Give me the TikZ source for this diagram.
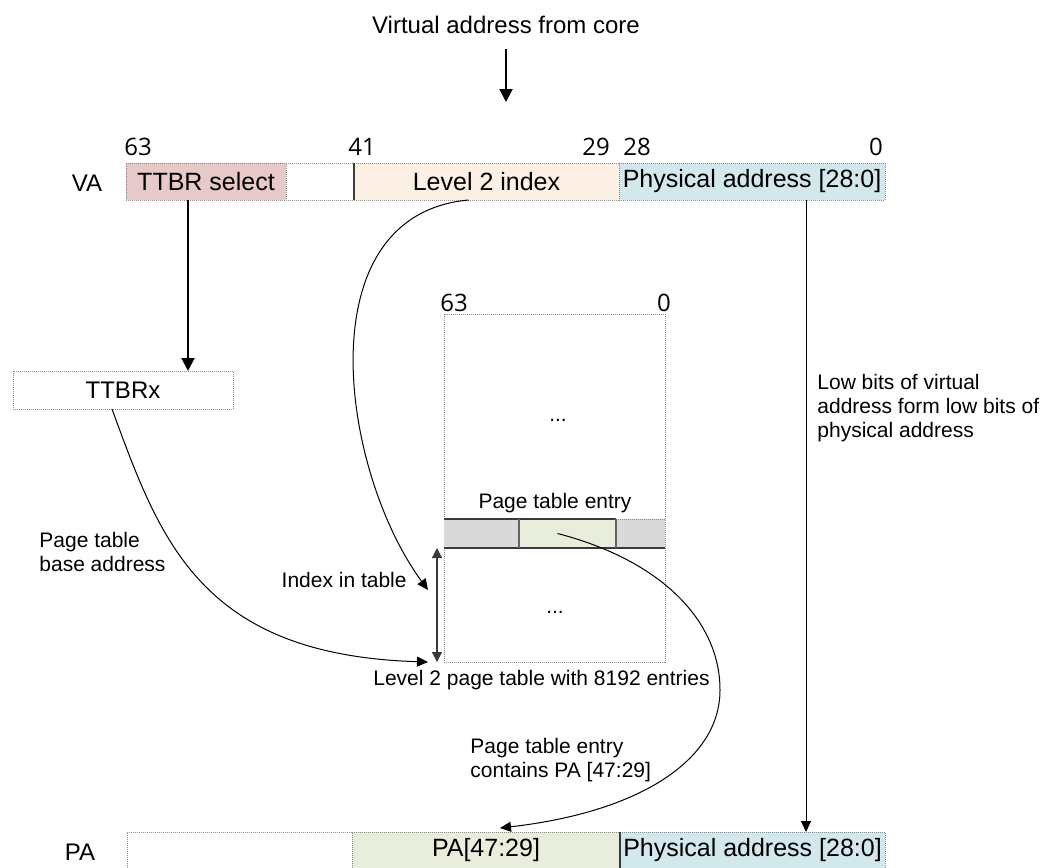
\documentclass[tikz,border=0pt]{standalone}
\usepackage{fontspec}
\setmainfont{Liberation Sans}
\newfontfamily\bitfont{Open Sans}
\usetikzlibrary{arrows.meta, positioning}
\definecolor{cgrey}{HTML}{8C8C8C}
\definecolor{cdark}{HTML}{3A3A3A}
\definecolor{cred}{HTML}{E8C9C9}
\definecolor{corange}{HTML}{FCEFE3}
\definecolor{cblue}{HTML}{D3E8ED}
\definecolor{cgreen}{HTML}{E9EEDC}
\definecolor{cfill}{HTML}{D9D9D9}
\tikzset{
  every picture/.style={x=0.5pt, y=-0.5pt, font=\fontsize{10.5}{12}\selectfont},
  seg/.style={draw=cgrey, dash pattern=on 0.5pt off 0.5pt, line width=0.5pt, fill=#1, inner sep=0pt, outer sep=0pt, minimum height=18.5pt, font=\fontsize{12.5}{14}\selectfont},
  seg/.default=white,
  big/.style={font=\fontsize{12}{14}\selectfont},
  divider/.style={draw=cdark, line width=0.6pt},
  bit/.style={font=\bitfont\fontsize{12}{14}\selectfont, inner sep=0pt},
  note/.style={align=left, inner sep=0pt},
  bigarrow/.style={-{Triangle[length=6.5pt, width=6.5pt]}, line width=1pt},
  arrow/.style={-{Triangle[length=5.5pt, width=5pt]}, line width=0.5pt},
  idxarrow/.style={{Triangle[length=5pt, width=5pt]}-{Triangle[length=5pt, width=5pt]}, draw=cdark, line width=0.6pt},
}
\begin{document}
\begin{tikzpicture}
  \useasboundingbox (0,0) rectangle (1059,867);
  % address coming from the core
  \node[big] (core) at (506,25) {Virtual address from core};
  \coordinate (coretip) at (506,102);
  \draw[bigarrow] ([yshift=-4pt]core.south) -- (coretip);

  % VA register
  \node[big] (va) at (87,183) {VA};
  \node[seg=cred, minimum width=80pt] (ttbrsel) at (206,181.5) {TTBR select};
  \node[seg, minimum width=34pt, right=0pt of ttbrsel] (vablank) {};
  \node[seg=corange, minimum width=132.5pt, right=0pt of vablank] (lvl2idx) {Level 2 index};
  \node[seg=cblue, minimum width=133pt, right=0pt of lvl2idx] (vaoff) {Physical address [28:0]};
  \draw[divider] (lvl2idx.north west) -- (lvl2idx.south west);
  \foreach \b/\x in {63/138, 41/362, 29/596, 28/637, 0/876}
    \node[bit] (va\b) at (\x,147) {\b};

  % TTBRx
  \node[seg, minimum width=110pt, minimum height=19pt, big] (ttbrx) at (123,390) {TTBRx};
  \draw[bigarrow] ([xshift=-9pt]ttbrsel.south) -- ([xshift=-9pt]ttbrsel.south |- ttbrx.north);

  % level 2 table
  \node[seg, minimum width=110.5pt, minimum height=174pt] (ptable) at (554.5,488) {};
  \node[bit] (pt63) at (454,303) {63};
  \node[bit] (pt0) at (664,303) {0};
  \node (dotsa) at (558,420) {...};
  \node (dotsb) at (555,612) {...};
  \node (ptelabel) at (555,503) {Page table entry};
  \node[seg=cfill, draw=none, minimum width=37.5pt, minimum height=14.5pt] (pteleft) at (481.5,533.5) {};
  \node[seg=cgreen, draw=none, minimum width=48.5pt, minimum height=14.5pt, right=0pt of pteleft] (ptepa) {};
  \node[seg=cfill, minimum width=24.5pt, minimum height=14.5pt, right=0pt of ptepa] (pteright) {};
  \draw[divider] (pteleft.north west) -- (pteright.north west);
  \draw[divider] (pteleft.south west) -- (pteright.south east);
  \draw[divider, draw=cgrey!70!black] (ptepa.north west) -- (ptepa.south west) (ptepa.north east) -- (ptepa.south east);
  \node (ptcaption) at (541.5,680) {Level 2 page table with 8192 entries};

  % labels
  \node[note, anchor=west] (baselabel) at (39,552) {Page table\\base address};
  \node[anchor=east, inner sep=0pt] (idxlabel) at (407,580) {Index in table};
  \node[note, anchor=west] (lowlabel) at (817,408) {Low bits of virtual\\address form low bits of\\physical address};
  \node[note, anchor=west] (pteinfo) at (470,760) {Page table entry\\contains PA [47:29]};

  % PA register
  \node[big] (pa) at (80,852) {PA};
  \node[seg, minimum width=112.5pt] (pablank) at (239.5,850.5) {};
  \node[seg=cgreen, minimum width=134pt, right=0pt of pablank] (pahigh) {PA[47:29]};
  \node[seg=cblue, minimum width=132.5pt, right=0pt of pahigh] (paoff) {Physical address [28:0]};
  \draw[divider] (paoff.north west) -- (paoff.south west);

  % connectors
  \coordinate (idxtip) at (428,590);
  \coordinate (basetip) at ([xshift=-8pt]ptable.south west);
  \coordinate (patip) at ([xshift=7pt, yshift=2pt]pahigh.north);
  \draw[arrow] ([xshift=-9pt]lvl2idx.south) .. controls (305,215) and (340,470) .. (idxtip);
  \draw[arrow] ([xshift=-5.5pt]ttbrx.south) .. controls (160,540) and (200,655) .. (basetip);
  \draw[arrow] ([xshift=-5pt]ptepa.center) .. controls (660,560) and (720,620) .. (720,690) .. controls (720,760) and (640,812) .. (patip);
  \draw[idxarrow] ([xshift=-3.5pt]pteleft.south west) -- ([xshift=-3.5pt]ptable.south west);
  \draw[arrow] ([xshift=27pt]vaoff.south) -- ([xshift=27pt]vaoff.south |- paoff.north);
\end{tikzpicture}
\end{document}
